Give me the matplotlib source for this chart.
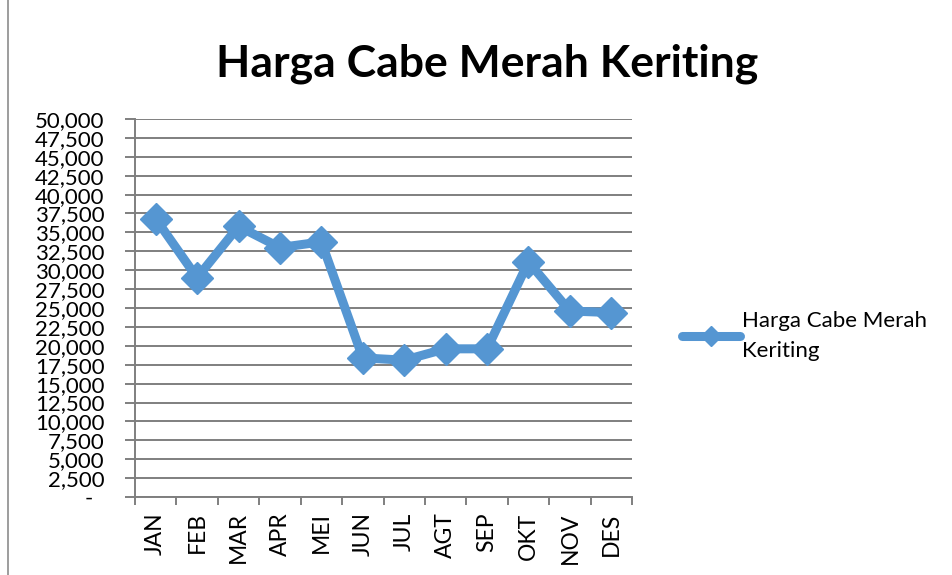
import matplotlib.pyplot as plt
from matplotlib.lines import Line2D
from matplotlib.ticker import FuncFormatter, FixedLocator

months = ['JAN', 'FEB', 'MAR', 'APR', 'MEI', 'JUN',
          'JUL', 'AGT', 'SEP', 'OKT', 'NOV', 'DES']
harga = [36800, 29000, 35800, 33000, 33750, 18400,
         18100, 19600, 19600, 31100, 24600, 24400]
series_name = 'Harga Cabe Merah Keriting'
title = 'Harga Cabe Merah Keriting'

plt.rcParams['font.family'] = ['Lato', 'DejaVu Sans']

blue = '#5596D2'
grid_gray = '#7f7f7f'

fig = plt.figure(figsize=(9.52, 5.75), dpi=100)
ax = fig.add_axes([135 / 952, 78 / 575, 497 / 952, 378 / 575])

x = list(range(len(months)))
ax.plot(x, harga, color=blue, lw=6.5, marker='D', markersize=16,
        solid_joinstyle='round', solid_capstyle='round', zorder=3)

ax.set_xlim(-0.5, len(months) - 0.5)
ax.set_ylim(0, 50000)

# y axis: gridlines every 2,500, zero shown as "-"
ax.set_yticks(range(0, 50001, 2500))
ax.yaxis.set_major_formatter(FuncFormatter(
    lambda v, p: '-  ' if v == 0 else f'{int(v):,}'))
ax.grid(axis='y', color=grid_gray, lw=1.4)
ax.set_axisbelow(True)
ax.tick_params(axis='y', length=7, width=1.4, color=grid_gray,
               labelsize=16, pad=15)

# x axis: category labels centred, tick marks between categories
ax.set_xticks(x)
ax.set_xticklabels(months, rotation=90)
ax.xaxis.set_minor_locator(FixedLocator([i - 0.5 for i in range(len(months) + 1)]))
ax.tick_params(axis='x', which='major', length=0, labelsize=16.5, pad=11)
ax.tick_params(axis='x', which='minor', length=6, width=1.4, color=grid_gray)

for side in ['top', 'right']:
    ax.spines[side].set_visible(False)
for side in ['left', 'bottom']:
    ax.spines[side].set_color(grid_gray)
    ax.spines[side].set_linewidth(1.4)

fig.text(0.512, 1 - 76 / 575, title, ha='center', va='baseline',
         fontsize=32, fontweight='bold')

handle = Line2D([], [], color=blue, lw=6.5, marker='D', markersize=10,
                solid_capstyle='round')
leg = fig.legend([handle], ['Harga Cabe Merah\nKeriting'], frameon=False,
                 loc='upper left', bbox_to_anchor=(662 / 952, 1 - 291 / 575),
                 fontsize=16, handlelength=2.6, handletextpad=0.1)
for t in leg.get_texts():
    t.set_linespacing(1.6)

# chart border fragment on the left
fig.add_artist(Line2D([8 / 952, 8 / 952], [0, 1], color='#8c8c8c', lw=1.2))

fig.savefig('out.png', dpi=100)
